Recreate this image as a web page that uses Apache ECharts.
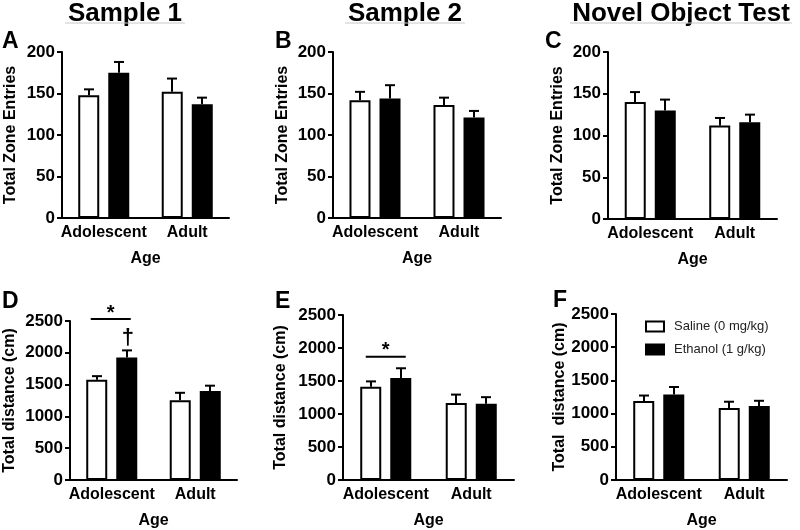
<!DOCTYPE html>
<html>
<head>
<meta charset="utf-8">
<script src="https://cdn.jsdelivr.net/npm/echarts@6/dist/echarts.min.js"></script>
<style>
html,body{margin:0;padding:0;background:#fff;}
#chart{width:800px;height:530px;}
</style>
</head>
<body>
<div id="chart"></div>
<script>
// ---------- data ----------
const categories = ['Adolescent', 'Adult'];
const groupNames = ['Saline (0 mg/kg)', 'Ethanol (1 g/kg)'];
const columnTitles = ['Sample 1', 'Sample 2', 'Novel Object Test'];
const panelLetters = ['A', 'B', 'C', 'D', 'E', 'F'];
const yNames = ['Total Zone Entries', 'Total Zone Entries', 'Total Zone Entries',
                'Total distance (cm)', 'Total distance (cm)', 'Total  distance (cm)'];
const xName = 'Age';

// Total zone entries (means and SEM)
const entriesS1Saline = [148, 152];   const entriesS1SalineSem = [7, 16];
const entriesS1Ethanol = [175, 137];  const entriesS1EthanolSem = [13, 8];
const entriesS2Saline = [142, 136];   const entriesS2SalineSem = [10, 9];
const entriesS2Ethanol = [144, 121];  const entriesS2EthanolSem = [16, 8];
const entriesNOSaline = [140, 112];   const entriesNOSalineSem = [12, 9];
const entriesNOEthanol = [130, 116];  const entriesNOEthanolSem = [13, 9];

// Total distance (cm)
const distS1Saline = [1576, 1252];    const distS1SalineSem = [57, 119];
const distS1Ethanol = [1925, 1401];   const distS1EthanolSem = [113, 82];
const distS2Saline = [1413, 1165];    const distS2SalineSem = [81, 129];
const distS2Ethanol = [1544, 1155];   const distS2EthanolSem = [149, 100];
const distNOSaline = [1188, 1084];    const distNOSalineSem = [84, 95];
const distNOEthanol = [1287, 1113];   const distNOEthanolSem = [114, 80];

const entriesTicks = {min: 0, max: 200, interval: 50};
const distTicks = {min: 0, max: 2500, interval: 500};

// significance annotations: [category index, value]
const sigStarD = [[0, 2530]];
const daggerD = [[0, 2240]];
const sigStarE = [[0, 1868]];

// ---------- layout ----------
const FONT = "'Liberation Sans', Arial, Helvetica, sans-serif";
const panels = [
  {grid: {left: 62, top: 52, width: 167, height: 166}, sal: entriesS1Saline, salSem: entriesS1SalineSem, eth: entriesS1Ethanol, ethSem: entriesS1EthanolSem, ticks: entriesTicks, nameGap: 43},
  {grid: {left: 333, top: 52, width: 168, height: 166}, sal: entriesS2Saline, salSem: entriesS2SalineSem, eth: entriesS2Ethanol, ethSem: entriesS2EthanolSem, ticks: entriesTicks, nameGap: 42},
  {grid: {left: 608, top: 52, width: 169, height: 167}, sal: entriesNOSaline, salSem: entriesNOSalineSem, eth: entriesNOEthanol, ethSem: entriesNOEthanolSem, ticks: entriesTicks, nameGap: 42},
  {grid: {left: 70, top: 321, width: 167, height: 162}, sal: distS1Saline, salSem: distS1SalineSem, eth: distS1Ethanol, ethSem: distS1EthanolSem, ticks: distTicks, nameGap: 52},
  {grid: {left: 343, top: 315, width: 171, height: 167}, sal: distS2Saline, salSem: distS2SalineSem, eth: distS2Ethanol, ethSem: distS2EthanolSem, ticks: distTicks, nameGap: 54},
  {grid: {left: 616, top: 314, width: 171, height: 169}, sal: distNOSaline, salSem: distNOSalineSem, eth: distNOEthanol, ethSem: distNOEthanolSem, ticks: distTicks, nameGap: 47}
];

const BAR_W = 21;
const OFFSET = 15;

const grids = [], xAxes = [], yAxes = [], series = [];

function errSeries(idx, means, sems, dx) {
  return {
    type: 'custom', xAxisIndex: idx, yAxisIndex: idx, z: 5, silent: true,
    data: means.map((m, i) => [i, m, sems[i]]),
    renderItem: function (params, api) {
      const c = api.value(0), v = api.value(1), e = api.value(2);
      const base = api.coord([c, v]);
      const top = api.coord([c, v + e]);
      const x = Math.round(base[0] + dx);
      const st = {stroke: '#000', lineWidth: 2};
      return {type: 'group', children: [
        {type: 'line', shape: {x1: x, y1: base[1], x2: x, y2: top[1]}, style: st},
        {type: 'line', shape: {x1: x - 5, y1: top[1], x2: x + 5, y2: top[1]}, style: st}
      ]};
    }
  };
}

panels.forEach((p, i) => {
  grids.push(Object.assign({containLabel: false}, p.grid));
  xAxes.push({
    type: 'category', gridIndex: i, data: categories,
    name: xName, nameLocation: 'middle', nameGap: 33,
    nameTextStyle: {fontFamily: FONT, fontWeight: 'bold', fontSize: 16, color: '#000'},
    axisLine: {lineStyle: {color: '#000', width: 2}},
    axisTick: {alignWithLabel: true, length: 5, lineStyle: {color: '#000', width: 2}},
    axisLabel: {interval: 0, fontFamily: FONT, fontWeight: 'bold', fontSize: 16, color: '#000', margin: 7}
  });
  yAxes.push({
    type: 'value', gridIndex: i, min: p.ticks.min, max: p.ticks.max, interval: p.ticks.interval,
    name: yNames[i], nameLocation: 'middle', nameGap: p.nameGap,
    nameTextStyle: {fontFamily: FONT, fontWeight: 'bold', fontSize: 16, color: '#000'},
    splitLine: {show: false},
    axisLine: {show: true, lineStyle: {color: '#000', width: 2}},
    axisTick: {show: true, length: 5, lineStyle: {color: '#000', width: 2}},
    axisLabel: {fontFamily: FONT, fontWeight: 'bold', fontSize: 17, color: '#000', margin: 7,
                formatter: function (v) { return String(v); }}
  });
  series.push({
    name: groupNames[0], type: 'bar', xAxisIndex: i, yAxisIndex: i, data: p.sal,
    barWidth: BAR_W, barGap: '43%',
    itemStyle: {color: '#fff', borderColor: '#000', borderWidth: 2}
  });
  series.push({
    name: groupNames[1], type: 'bar', xAxisIndex: i, yAxisIndex: i, data: p.eth,
    barWidth: BAR_W, barGap: '43%',
    itemStyle: {color: '#000', borderColor: '#000', borderWidth: 2}
  });
  series.push(errSeries(i, p.sal, p.salSem, -OFFSET));
  series.push(errSeries(i, p.eth, p.ethSem, OFFSET));
});

function sigSeries(idx, data, halfWidth, shift) {
  return {
    type: 'custom', xAxisIndex: idx, yAxisIndex: idx, z: 6, silent: true,
    data: data,
    renderItem: function (params, api) {
      const p = api.coord([api.value(0), api.value(1)]);
      const cx = p[0] + shift;
      return {type: 'group', children: [
        {type: 'line', shape: {x1: cx - halfWidth, y1: p[1], x2: cx + halfWidth, y2: p[1]}, style: {stroke: '#000', lineWidth: 2}},
        {type: 'text', x: cx, y: p[1] + 4, style: {text: '*', fill: '#000', font: 'bold 20px ' + FONT, align: 'center', verticalAlign: 'bottom'}}
      ]};
    }
  };
}
function daggerSeries(idx, data, dx) {
  return {
    type: 'custom', xAxisIndex: idx, yAxisIndex: idx, z: 6, silent: true,
    data: data,
    renderItem: function (params, api) {
      const p = api.coord([api.value(0), api.value(1)]);
      return {type: 'text', x: p[0] + dx, y: p[1], style: {text: '\u2020', fill: '#000', font: 'bold 22px ' + FONT, align: 'center', verticalAlign: 'middle'}};
    }
  };
}
series.push(sigSeries(3, sigStarD, 20, -1));
series.push(daggerSeries(3, daggerD, 16));
series.push(sigSeries(4, sigStarE, 20, 0));

// titles / letters
const graphics = [];
const titleCenters = [125, 405, 681];
const underlines = [[65, 185], [345, 465], [570, 792]];
columnTitles.forEach((t, i) => {
  graphics.push({type: 'text', x: titleCenters[i], y: 14, style: {text: t, fill: '#000', font: 'bold 26px ' + FONT, align: 'center', verticalAlign: 'middle'}});
  graphics.push({type: 'line', shape: {x1: underlines[i][0], y1: 23, x2: underlines[i][1], y2: 23}, style: {stroke: '#c8c8c8', lineWidth: 1}});
});
const letterPos = [[2, 42], [275, 42], [545, 42], [2, 302], [275, 302], [553, 301]];
panelLetters.forEach((l, i) => {
  graphics.push({type: 'text', x: letterPos[i][0], y: letterPos[i][1], style: {text: l, fill: '#000', font: 'bold 23px ' + FONT, align: 'left', verticalAlign: 'middle'}});
});

const chart = echarts.init(document.getElementById('chart'), null, {renderer: 'canvas'});
chart.setOption({
  animation: false,
  backgroundColor: '#fff',
  grid: grids,
  xAxis: xAxes,
  yAxis: yAxes,
  legend: {
    data: groupNames, orient: 'vertical', left: 645, top: 320, padding: 0,
    itemWidth: 18, itemHeight: 10, itemGap: 10, icon: 'rect',
    textStyle: {fontFamily: FONT, fontSize: 13, color: '#222', padding: [0, 0, 0, 5]},
    selectedMode: false
  },
  graphic: graphics,
  series: series
});
</script>
</body>
</html>
